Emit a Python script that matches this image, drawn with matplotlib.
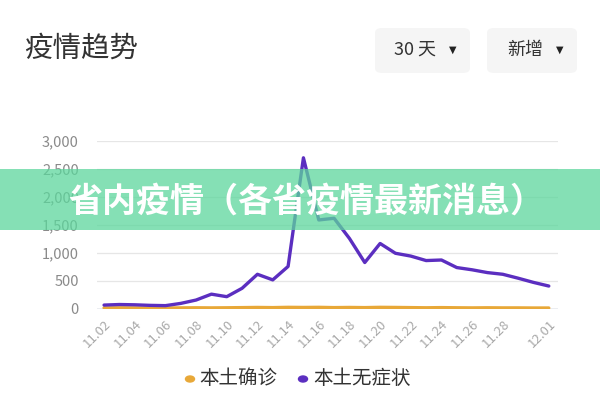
import matplotlib
matplotlib.use("Agg")
import matplotlib.pyplot as plt
from matplotlib.patches import FancyBboxPatch, Rectangle

plt.rcParams['font.family'] = ['Noto Sans CJK SC', 'DejaVu Sans']

dates = ["11.02", "11.03", "11.04", "11.05", "11.06", "11.07", "11.08", "11.09", "11.10",
         "11.11", "11.12", "11.13", "11.14", "11.15", "11.16", "11.17", "11.18", "11.19",
         "11.20", "11.21", "11.22", "11.23", "11.24", "11.25", "11.26", "11.27", "11.28",
         "11.29", "11.30", "12.01"]
confirmed = [20, 22, 20, 18, 18, 20, 22, 20, 22, 25, 28, 25, 30, 28, 30, 25, 28, 25,
             30, 28, 25, 22, 25, 22, 20, 22, 20, 20, 18, 18]
asymptomatic = [70, 80, 75, 65, 60, 100, 160, 265, 220, 370, 620, 520, 760, 2700, 1590,
                1620, 1260, 830, 1170, 995, 945, 865, 875, 740, 700, 650, 620, 550, 475, 410]
tick_labels = ["11.02", "11.04", "11.06", "11.08", "11.10", "11.12", "11.14", "11.16",
               "11.18", "11.20", "11.22", "11.24", "11.26", "11.28", "12.01"]
yticks = [0, 500, 1000, 1500, 2000, 2500, 3000]

W, H = 600, 400
fig = plt.figure(figsize=(6, 4), dpi=100)
fig.patch.set_facecolor('white')

ax = fig.add_axes([97 / W, 1 - 309 / H, (558 - 97) / W, (309 - 141) / H])
x = list(range(len(dates)))
ax.plot(x, confirmed, color='#E8A838', lw=2.4, solid_capstyle='round', solid_joinstyle='round', zorder=3)
ax.plot(x, asymptomatic, color='#5B2EC0', lw=2.4, solid_capstyle='round', solid_joinstyle='round', zorder=4)

ax.set_xlim(-0.46, 29.6)
ax.set_ylim(0, 3000)
ax.set_yticks(yticks)
ax.set_yticklabels([f"{v:,}" for v in yticks], fontsize=10.5, color='#8a8a8a')
ax.tick_params(axis='y', length=0, pad=13)
for v in yticks[1:]:
    ax.axhline(v, color='#e6e6e6', lw=0.9, zorder=1)
ax.axhline(0, color='#9aa8b8', lw=1.0, zorder=2)
for s in ax.spines.values():
    s.set_visible(False)
ax.set_facecolor('none')
tpos = [dates.index(t) for t in tick_labels]
ax.set_xticks(tpos)
ax.set_xticklabels(tick_labels, rotation=45, ha='right', va='top', fontsize=9.5,
                   color='#a8a8a8', rotation_mode='anchor')
ax.tick_params(axis='x', length=0, pad=6)

# Header
fig.text(24 / W, 1 - 49 / H, "疫情趋势", fontsize=20.5, color='#333333', va='center', ha='left')
for (x0, x1, label) in [(375, 470, "30 天"), (487, 577, "新增")]:
    box = FancyBboxPatch((x0 / W, 1 - 73 / H), (x1 - x0) / W, 45 / H,
                         boxstyle="round,pad=0,rounding_size=0.012",
                         transform=fig.transFigure, facecolor='#f5f5f5', edgecolor='none')
    fig.patches.append(box)
    fig.text((x0 + x1) / 2 / W - 0.012, 1 - 50 / H, label, fontsize=13, color='#333333',
             ha='center', va='center')
    fig.text((x1 - 17) / W, 1 - 50 / H, "▼", fontsize=7, color='#222222',
             ha='center', va='center', family=['DejaVu Sans'])

# Legend
fig.patches.append(plt.Circle((190 / W, 1 - 379 / H), 0.0075, transform=fig.transFigure,
                              color='#E8A838'))
fig.text(199 / W, 1 - 379 / H, "本土确诊", fontsize=14, color='#333333', va='center', ha='left')
fig.patches.append(plt.Circle((303 / W, 1 - 379 / H), 0.0075, transform=fig.transFigure,
                              color='#5B2EC0'))
fig.text(313 / W, 1 - 379 / H, "本土无症状", fontsize=14, color='#333333', va='center', ha='left')

# Banner overlay
fig.patches.append(Rectangle((0, 1 - 230 / H), 1, 61 / H, transform=fig.transFigure,
                             facecolor='#5CD69C', alpha=0.75, edgecolor='none', zorder=10))
fig.text(0.51, 1 - 201 / H, "省内疫情（各省疫情最新消息）", fontsize=24.5, color='white',
         fontweight='bold', ha='center', va='center', zorder=11)

fig.savefig("out.png", dpi=100, facecolor='white')
